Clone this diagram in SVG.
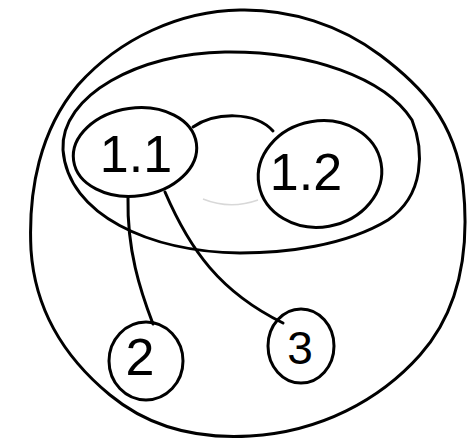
<svg xmlns="http://www.w3.org/2000/svg" width="473" height="439" viewBox="0 0 473 439">
<style>
.ln{fill:none;stroke:#000;stroke-width:3;stroke-linecap:round;stroke-linejoin:round}
.faint{fill:none;stroke:#d8d8d8;stroke-width:1.5}
.lbl{font-family:"Liberation Sans","DejaVu Sans",sans-serif;fill:#000;text-anchor:middle}
</style>
<rect width="473" height="439" fill="#fff"/>
<g id="outer-set">
<path class="ln" d="M 240,10 C 290,9 340,25 380,55 C 420,85 455,120 463,185 C 470,250 460,310 420,355 C 380,400 320,432 250,436 C 200,439 150,428 110,395 C 65,358 35,310 31,250 C 28,190 40,130 78,85 C 120,38 180,11 240,10 Z"/>
</g>
<g id="inner-set">
<path class="ln" d="M 63,150 C 60,95 140,53 225,52 C 310,51 385,78 412,120 C 424,150 425,195 388,220 C 345,246 285,253 240,253 C 150,252 68,215 63,150 Z"/>
</g>
<g id="connectors">
<path class="ln" d="M 193,127 C 215,112 255,111 273,131"/>
<path class="ln" d="M 128,198 C 127,250 140,290 153,324"/>
<path class="ln" d="M 165,192 C 190,250 220,292 283,323"/>
<path class="faint" d="M 203,199 Q 230,210 258,200"/>
</g>
<g id="node-1-1">
<ellipse class="ln" cx="135" cy="152" rx="62" ry="44" transform="rotate(-8 135 152)"/>
<text class="lbl" x="136" y="172" font-size="52">1.1</text>
</g>
<g id="node-1-2">
<ellipse class="ln" cx="320" cy="174" rx="62" ry="53" transform="rotate(-10 320 174)"/>
<text class="lbl" x="306" y="190" font-size="52">1.2</text>
</g>
<g id="node-2">
<ellipse class="ln" cx="146" cy="361" rx="37" ry="39"/>
<text class="lbl" x="140" y="375" font-size="52">2</text>
</g>
<g id="node-3">
<ellipse class="ln" cx="301" cy="346" rx="33" ry="37"/>
<text class="lbl" x="300" y="364" font-size="46">3</text>
</g>
</svg>
